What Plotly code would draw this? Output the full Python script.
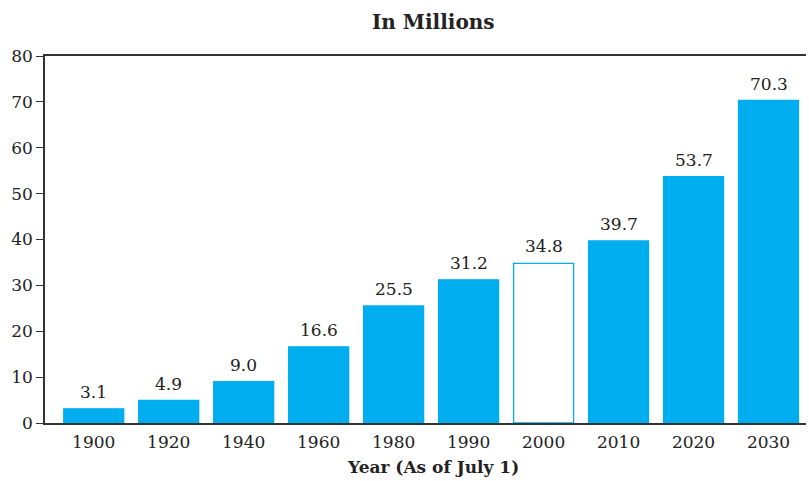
import plotly.graph_objects as go

years = ["1900", "1920", "1940", "1960", "1980", "1990", "2000", "2010", "2020", "2030"]
values = [3.1, 4.9, 9.0, 16.6, 25.5, 31.2, 34.8, 39.7, 53.7, 70.3]
y_ticks = [0, 10, 20, 30, 40, 50, 60, 70, 80]

BLUE = "#00AEEF"
fill = ["white" if y == "2000" else BLUE for y in years]
FONT = "DejaVu Serif"

fig = go.Figure(go.Bar(
    x=years, y=values,
    marker=dict(color=fill, line=dict(color=BLUE, width=1.3)),
    hoverinfo="x+y",
))

# value labels above bars (category index positions on the category axis)
labels = [dict(x=i, y=v, text=f"{v:.1f}", xref="x", yref="y", yanchor="bottom",
               yshift=5, showarrow=False, font=dict(family=FONT, size=17, color="#222"))
          for i, v in enumerate(values)]

fig.update_layout(
    width=809, height=481,
    margin=dict(l=45, r=3, t=56, b=58, autoexpand=False),
    plot_bgcolor="white", paper_bgcolor="white",
    bargap=0.2, showlegend=False,
    font=dict(family=FONT, size=17, color="#222"),
    xaxis=dict(type="category", range=[-0.65, 9.5], showline=True, mirror=True,
               linecolor="#333", linewidth=1.5, ticks="", showgrid=False,
               automargin=False, ticklabelstandoff=3,
               tickfont=dict(family=FONT, size=17, color="#222")),
    yaxis=dict(range=[0, 80], tickvals=y_ticks, showline=True, linecolor="#333",
               linewidth=1.5, ticks="outside", ticklen=7, tickcolor="#333",
               showgrid=False, zeroline=False, automargin=False,
               tickfont=dict(family=FONT, size=17, color="#222")),
    annotations=labels + [
        dict(text="<b>In Millions</b>", xref="paper", yref="paper",
             x=(433 - 45) / 761, y=1, yshift=34, yanchor="middle", showarrow=False,
             font=dict(family=FONT, size=20, color="#222")),
        dict(text="<b>Year (As of July 1)</b>", xref="paper", yref="paper",
             x=(433 - 45) / 761, y=0, yshift=-44, yanchor="middle", showarrow=False,
             font=dict(family=FONT, size=17, color="#222")),
    ],
)

fig.write_html("out.html", config={"displayModeBar": False},
               post_script="document.body.style.margin='0';")
